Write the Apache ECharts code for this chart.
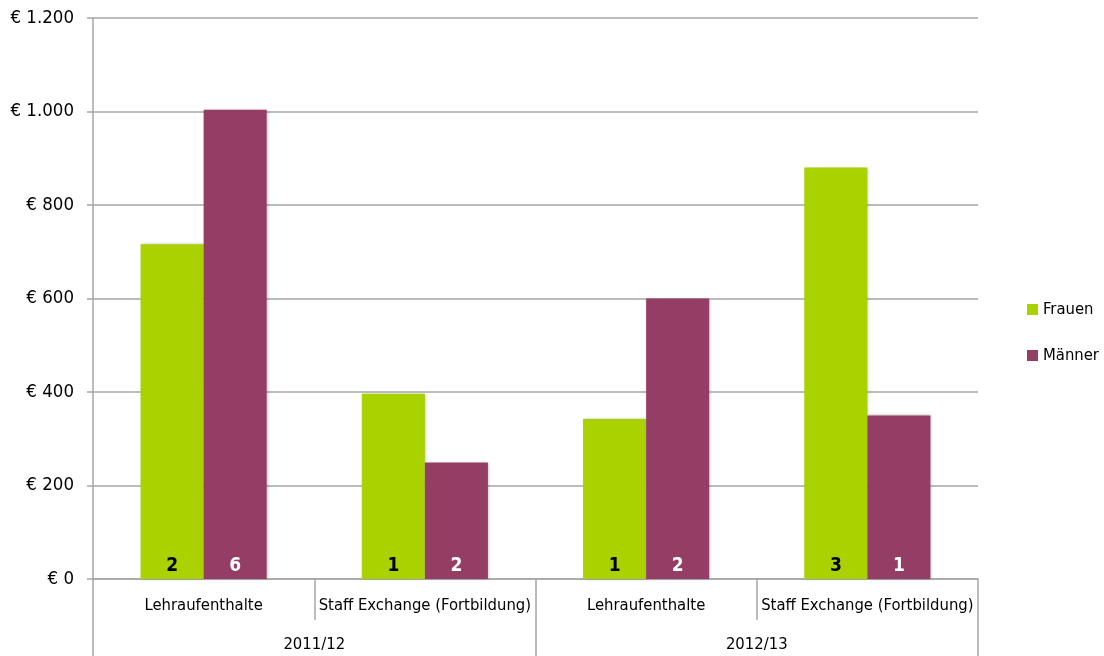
<!DOCTYPE html>
<html>
<head>
<meta charset="utf-8">
<script src="https://cdn.jsdelivr.net/npm/echarts@6/dist/echarts.min.js"></script>
<style>
  html, body { margin: 0; padding: 0; background: #fff; }
  #main { width: 1104px; height: 656px; }
</style>
</head>
<body>
<div id="main"></div>
<script>
// data
var categories = ['Lehraufenthalte', 'Staff Exchange (Fortbildung)', 'Lehraufenthalte', 'Staff Exchange (Fortbildung)'];
var years = ['2011/12', '2012/13'];
var frauen = [716, 396, 342, 880];
var maenner = [1004, 249, 600, 350];
var frauenCount = [2, 1, 1, 3];
var maennerCount = [6, 2, 2, 1];

var font = 'DejaVu Sans Condensed';
var grey = '#a6a6a6';

var myChart = echarts.init(document.getElementById('main'));

function euro(v) {
    return '€ ' + String(v).replace(/\B(?=(\d{3})+(?!\d))/g, '.');
}

var option = {
    animation: false,
    textStyle: { fontFamily: font },
    grid: {
        left: 93,
        right: 126,
        top: 18,
        bottom: 77
    },
    legend: {
        orient: 'vertical',
        left: 1022,
        top: 296,
        itemWidth: 11,
        itemHeight: 11,
        itemGap: 29,
        icon: 'rect',
        textStyle: { fontFamily: font, fontSize: 16.5, color: '#000' },
        data: ['Frauen', 'Männer']
    },
    xAxis: [{
        type: 'category',
        data: categories,
        axisLine: { lineStyle: { color: grey, width: 1.5 } },
        axisTick: { show: true, length: 41, interval: 0, lineStyle: { color: grey, width: 1.5 } },
        axisLabel: { show: true, color: '#000', fontSize: 16.5, margin: 18, interval: 0, fontFamily: font }
    }, {
        type: 'category',
        data: years,
        position: 'bottom',
        axisLine: { show: false },
        axisTick: { show: true, length: 80, interval: 0, lineStyle: { color: grey, width: 1.5 } },
        axisLabel: { show: true, color: '#000', fontSize: 16.5, margin: 57, fontFamily: font }
    }],
    yAxis: {
        type: 'value',
        min: 0,
        max: 1200,
        interval: 200,
        axisLine: { show: true, lineStyle: { color: grey, width: 1.5 } },
        axisTick: { show: true, length: 6, lineStyle: { color: grey, width: 1.5 } },
        splitLine: { lineStyle: { color: grey, width: 1.5 } },
        axisLabel: {
            color: '#000',
            fontSize: 18.5,
            margin: 19,
            fontFamily: font,
            formatter: euro
        }
    },
    series: [{
        name: 'Frauen',
        type: 'bar',
        xAxisIndex: 0,
        data: frauen,
        barGap: 0,
        barCategoryGap: '43%',
        itemStyle: {
            color: '#a9d200',
            shadowColor: 'rgba(0,0,0,0.25)',
            shadowBlur: 3,
            shadowOffsetX: 1,
            shadowOffsetY: 0
        },
        label: {
            show: true,
            position: 'insideBottom',
            distance: 3,
            color: '#000',
            fontWeight: 'bold',
            fontSize: 19,
            fontFamily: font,
            formatter: function (p) { return frauenCount[p.dataIndex]; }
        }
    }, {
        name: 'Männer',
        type: 'bar',
        xAxisIndex: 0,
        data: maenner,
        barGap: 0,
        barCategoryGap: '43%',
        itemStyle: {
            color: '#953e65',
            shadowColor: 'rgba(0,0,0,0.25)',
            shadowBlur: 3,
            shadowOffsetX: 1,
            shadowOffsetY: 0
        },
        label: {
            show: true,
            position: 'insideBottom',
            distance: 3,
            color: '#fff',
            fontWeight: 'bold',
            fontSize: 19,
            fontFamily: font,
            formatter: function (p) { return maennerCount[p.dataIndex]; }
        }
    }]
};

myChart.setOption(option);
</script>
</body>
</html>
